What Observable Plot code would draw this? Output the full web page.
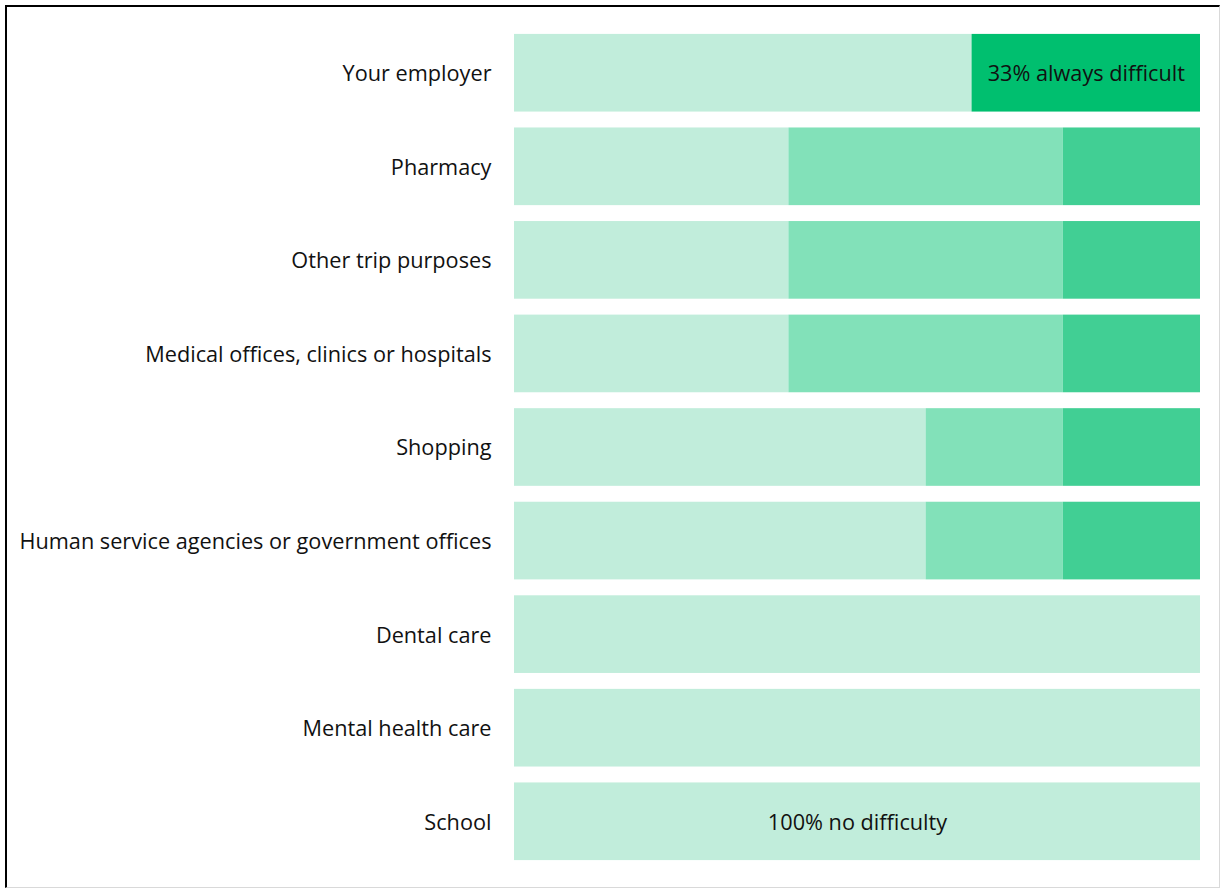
<!DOCTYPE html>
<html>
<head>
<meta charset="utf-8">
<script src="https://cdn.jsdelivr.net/npm/d3@7"></script>
<script src="https://cdn.jsdelivr.net/npm/@observablehq/plot@0.6"></script>
<style>
  html, body { margin: 0; padding: 0; background: #fff; }
  body { position: relative; width: 1220px; height: 888px; overflow: hidden; }
  #frame { position: absolute; left: 5px; top: 5px; width: 1212px; height: 880px;
           border-left: 2px solid #000; border-top: 2px solid #000;
           border-right: 1px solid #d9d9d9; border-bottom: 1px solid #d9d9d9; pointer-events: none; }
  #chart { position: absolute; left: 0; top: 0; }
</style>
</head>
<body>
<div id="chart"></div>
<div id="frame"></div>
<script>
const categories = [
  "Your employer",
  "Pharmacy",
  "Other trip purposes",
  "Medical offices, clinics or hospitals",
  "Shopping",
  "Human service agencies or government offices",
  "Dental care",
  "Mental health care",
  "School"
];
const seriesNames = ["no difficulty", "sometimes difficult", "often difficult", "always difficult"];
const noDifficulty       = [66.7, 40, 40, 40, 60, 60, 100, 100, 100];
const sometimesDifficult = [   0, 40, 40, 40, 20, 20,   0,   0,   0];
const oftenDifficult     = [   0, 20, 20, 20, 20, 20,   0,   0,   0];
const alwaysDifficult    = [33.3,  0,  0,  0,  0,  0,   0,   0,   0];
const seriesColors = ["#c1eddb", "#82e1b9", "#41cf94", "#00bf6f"];
// annotated segments: [category, series, label]
const annotations = [
  ["Your employer", "always difficult", "33% always difficult"],
  ["School", "no difficulty", "100% no difficulty"]
];

const seriesValues = [noDifficulty, sometimesDifficult, oftenDifficult, alwaysDifficult];
const rows = [];
categories.forEach((cat, i) => {
  seriesNames.forEach((s, j) => {
    const ann = annotations.find(a => a[0] === cat && a[1] === s);
    rows.push({cat, series: s, value: seriesValues[j][i], label: ann ? ann[2] : ""});
  });
});

const chart = Plot.plot({
  width: 1220,
  height: 888,
  marginLeft: 514,
  marginRight: 20,
  marginTop: 18,
  marginBottom: 12,
  style: {fontFamily: "'Open Sans', sans-serif", fontSize: "21.7px", color: "#000", background: "transparent"},
  x: {domain: [0, 100], axis: null},
  y: {domain: categories, padding: 0.17, round: false, label: null},
  color: {domain: seriesNames, range: seriesColors},
  marks: [
    Plot.barX(rows.filter(d => d.value > 0), {x: "value", y: "cat", fill: "series", order: seriesNames}),
    Plot.text(rows, Plot.stackX({x: "value", y: "cat", z: "series", order: seriesNames, text: "label", fill: "#111", fontSize: 21.7, dy: 1})),
    Plot.axisY({tickSize: 0, tickPadding: 23, fontSize: 21.7, label: null, fill: "#111", dy: 1})
  ]
});
document.getElementById("chart").appendChild(chart);
</script>
</body>
</html>
